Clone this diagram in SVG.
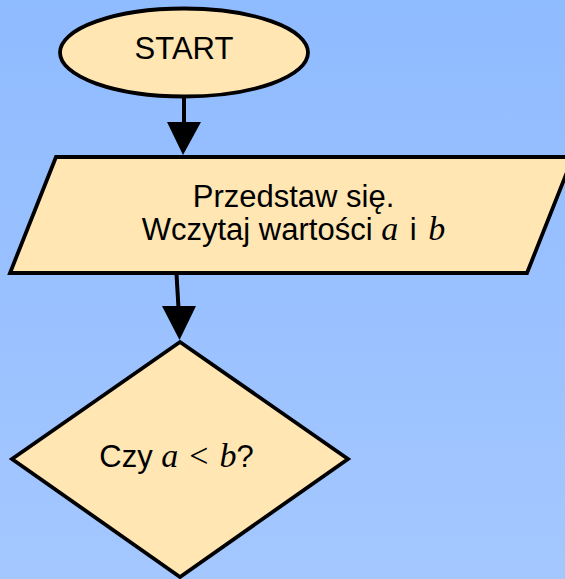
<svg xmlns="http://www.w3.org/2000/svg" width="565" height="579" viewBox="0 0 565 579">
  <defs>
    <linearGradient id="bg" x1="0" y1="0" x2="0" y2="1">
      <stop offset="0" stop-color="#8fbbff"/>
      <stop offset="1" stop-color="#a4c7ff"/>
    </linearGradient>
  </defs>
  <style>
    .shape { fill: #ffe6b3; stroke: #000; stroke-width: 3.8; stroke-linejoin: miter; }
    .label { font-family: "Liberation Sans", Arial, sans-serif; font-size: 31px; fill: #000; text-anchor: middle; }
    .math { font-family: "Liberation Serif", "Times New Roman", serif; font-style: italic; font-size: 34px; }
    .rel { font-family: "Liberation Serif", "Times New Roman", serif; font-size: 34px; }
    .edge { fill: none; stroke: #000; stroke-width: 4; }
    .head { fill: #000; }
  </style>

  <rect x="0" y="0" width="565" height="579" fill="url(#bg)"/>

  <!-- connectors -->
  <g id="connectors">
    <path class="edge" d="M184,97 L184,124"/>
    <path class="head" d="M167,122 L201,122 L183,155 Z"/>
    <path class="edge" d="M176.5,274 L178.5,308"/>
    <path class="head" d="M162,306 L196,306 L179.5,340 Z"/>
  </g>

  <!-- start terminal -->
  <g id="start">
    <ellipse class="shape" cx="184" cy="52.5" rx="124" ry="44"/>
    <text class="label" x="184" y="59">START</text>
  </g>

  <!-- input block -->
  <g id="input">
    <polygon class="shape" points="56,157 573,157 527,273 10,273"/>
    <text class="label" x="293.5" y="207">Przedstaw się.</text>
    <text class="label" x="293.5" y="240">Wczytaj wartości <tspan class="math">a</tspan><tspan dx="3"> i </tspan><tspan class="math" dx="3">b</tspan></text>
  </g>

  <!-- decision -->
  <g id="decision">
    <polygon class="shape" points="180,342 348,459 180,577 12,459"/>
    <text class="label" x="176.5" y="467">Czy <tspan class="math">a</tspan><tspan class="rel" dx="11">&lt;</tspan><tspan class="math" dx="11">b</tspan>?</text>
  </g>
</svg>
